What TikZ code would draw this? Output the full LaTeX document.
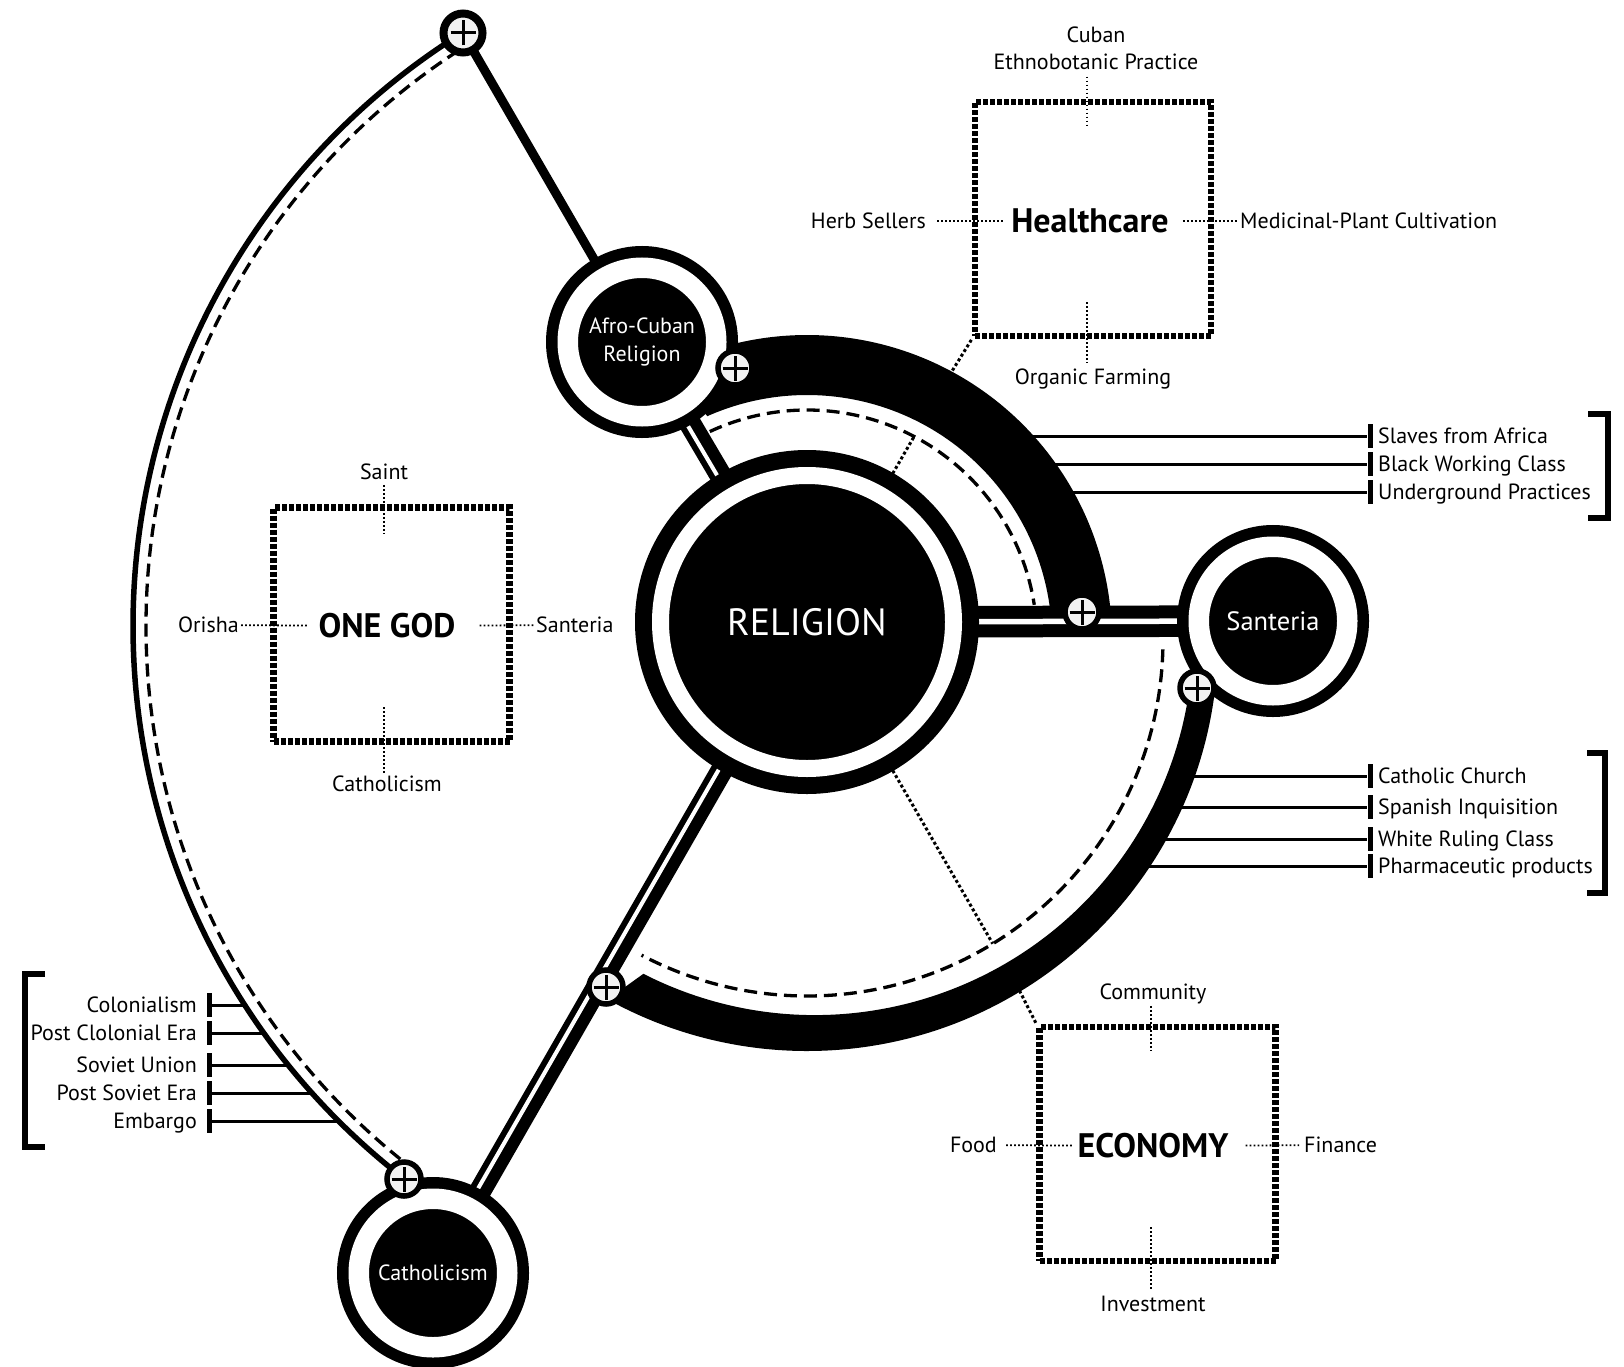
\documentclass[tikz,border=0pt]{standalone}
\usepackage{fontspec}
\setmainfont{PT Sans}
\usetikzlibrary{calc,backgrounds}

\begin{document}
\begin{tikzpicture}[x=1pt,y=-1pt,
        ring/.style={circle, draw=black, fill=black, double=white, inner sep=0pt, text=white, align=center},
        bigring/.style={ring, line width=17pt, double distance=17pt, minimum size=293pt},
        smallring/.style={ring, line width=11.5pt, double distance=20.5pt, minimum size=148.5pt},
        plusnode/.style={circle, draw=black, fill=black!5, line width=5.5pt, minimum size=34pt, inner sep=0pt,
            path picture={\draw[line width=3pt]
                ([xshift=-12.5pt]path picture bounding box.center) -- ([xshift=12.5pt]path picture bounding box.center)
                ([yshift=-12.5pt]path picture bounding box.center) -- ([yshift=12.5pt]path picture bounding box.center);}},
        topplus/.style={plusnode, line width=8pt, minimum size=39pt},
        framebox/.style={draw, line width=6.5pt, dash pattern=on 5pt off 2pt, minimum width=236pt, minimum height=234pt, inner sep=0pt},
        boxtitle/.style={font=\fontsize{34}{40}\selectfont\bfseries, inner sep=2pt, text height=23.5pt, text depth=0pt},
        lbl/.style={font=\fontsize{22}{28}\selectfont, inner sep=2pt, text height=15.5pt, text depth=0pt},
        thindot/.style={line width=1.8pt, dash pattern=on 1.8pt off 2.2pt},
        raydot/.style={line width=3pt, dash pattern=on 3pt off 2.5pt},
        arcdash/.style={line width=3.3pt, dash pattern=on 13pt off 7pt},
        tickline/.style={line width=3pt},
        tickbar/.style={fill=black, minimum width=5pt, minimum height=24pt, inner sep=0pt},
        bracket/.style={line width=5.5pt}]
        \useasboundingbox (0,0) rectangle (1624,1367);

        % circles
        \node[bigring, font=\fontsize{38}{40}\selectfont] (rel) at (807,622) {RELIGION};
        \node[smallring, font=\fontsize{22}{28}\selectfont] (afro) at (642,342) {Afro-Cuban\\Religion};
        \node[smallring, font=\fontsize{26.5}{30}\selectfont] (sant) at (1273,621) {Santeria};
        \node[smallring, font=\fontsize{22}{28}\selectfont] (cath) at (433,1273) {Catholicism};

        \node[topplus] (p1) at (463,33) {};
        \node[plusnode] (p2) at (735,368) {};
        \node[plusnode] (p3) at (1082,612) {};
        \node[plusnode] (p4) at (1197,688) {};
        \node[plusnode] (p5) at (606,987) {};
        \node[plusnode] (p6) at (404,1179) {};

        \coordinate (lc) at (832,626);
        \coordinate (bc) at (807,640);
        \coordinate (ic) at (815,637);

        % healthcare
        \node[framebox] (hbox) at (1093,219) {};
        \node[boxtitle] (health) at (1090,221) {Healthcare};
        \node[font=\fontsize{22}{27}\selectfont, align=center, inner sep=2pt] (ethno) at (1096,48) {Cuban\\Ethnobotanic Practice};
        \node[lbl, anchor=east] (herb) at (928,221) {Herb Sellers};
        \node[lbl, anchor=west] (medic) at (1238,221) {Medicinal-Plant Cultivation};
        \node[lbl] (organic) at (1093,377) {Organic Farming};
        \coordinate (ht) at (1087,128);
        \coordinate (hb) at (1087,302);
        \draw[thindot, shorten <=9pt, shorten >=6pt] (herb) -- (health);
        \draw[thindot, shorten <=12pt] (health) -- (medic);
        \draw[thindot, shorten <=5pt] (ht |- ethno.south) -- (ht);
        \draw[thindot, shorten >=4pt] (hb) -- (hb |- organic.north);

        % one god
        \node[framebox] (gbox) at (391.5,624.5) {};
        \node[boxtitle] (god) at (387,626) {ONE GOD};
        \node[lbl] (saint) at (384,472) {Saint};
        \node[lbl, anchor=east] (orisha) at (241,625) {Orisha};
        \node[lbl, anchor=west] (santl) at (534,625) {Santeria};
        \node[lbl] (cathl) at (387,784) {Catholicism};
        \coordinate (gt) at (384,533);
        \coordinate (gb) at (384,707);
        \draw[thindot, shorten >=9pt] (orisha) -- (god);
        \draw[thindot, shorten <=22pt] (god) -- (santl);
        \draw[thindot, shorten <=3pt] (gt |- saint.south) -- (gt);
        \draw[thindot] (gb) -- (gb |- cathl.north);

        % economy
        \node[framebox] (ebox) at (1157.5,1144) {};
        \node[boxtitle] (econ) at (1153,1146) {ECONOMY};
        \node[lbl] (comm) at (1153,992) {Community};
        \node[lbl, anchor=east] (food) at (999,1145) {Food};
        \node[lbl, anchor=west] (fin) at (1302,1145) {Finance};
        \node[lbl] (invest) at (1153,1304) {Investment};
        \coordinate (et) at (1151,1051);
        \coordinate (eb) at (1151,1227);
        \draw[thindot, shorten <=7pt, shorten >=3pt] (food) -- (econ);
        \draw[thindot, shorten <=15pt, shorten >=3pt] (econ) -- (fin);
        \draw[thindot, shorten <=4pt] (et |- comm.south) -- (et);
        \draw[thindot, shorten >=4pt] (eb) -- (eb |- invest.north);

        % right ticks
        \node[tickbar] (bsla) at (1370,436) {};
        \node[tickbar] (bbwc) at (1370,464) {};
        \node[tickbar] (bup) at (1370,492) {};
        \node[lbl, anchor=west] (slaves) at (1376,436) {Slaves from Africa};
        \node[lbl, anchor=west] (bwc) at (1376,464) {Black Working Class};
        \node[lbl, anchor=west] (underg) at (1376,492) {Underground Practices};
        \node[tickbar] (bcc) at (1370,776) {};
        \node[tickbar] (bsi) at (1370,807) {};
        \node[tickbar] (bwrc) at (1370,839) {};
        \node[tickbar] (bpp) at (1370,866) {};
        \node[lbl, anchor=west] (cathch) at (1376,776) {Catholic Church};
        \node[lbl, anchor=west] (spain) at (1376,807) {Spanish Inquisition};
        \node[lbl, anchor=west] (white) at (1376,839) {White Ruling Class};
        \node[lbl, anchor=west] (pharma) at (1376,866) {Pharmaceutic products};
        \draw[bracket] (1588,414) -- (1608,414) -- (1608,518) -- (1588,518);
        \draw[bracket] (1587,753) -- (1605,753) -- (1605,893) -- (1587,893);

        % left ticks
        \node[tickbar] (bcol) at (209,1005) {};
        \node[tickbar] (bpce) at (209,1033) {};
        \node[tickbar] (bsu) at (209,1065) {};
        \node[tickbar] (bpse) at (209,1093) {};
        \node[tickbar] (bemb) at (209,1121) {};
        \node[lbl, anchor=east] (colon) at (199,1005) {Colonialism};
        \node[lbl, anchor=east] (postcol) at (199,1033) {Post Clolonial Era};
        \node[lbl, anchor=east] (soviet) at (199,1065) {Soviet Union};
        \node[lbl, anchor=east] (postsov) at (199,1093) {Post Soviet Era};
        \node[lbl, anchor=east] (embargo) at (199,1121) {Embargo};
        \draw[bracket] (45,974) -- (25,974) -- (25,1147) -- (45,1147);

        \coordinate (e1) at (1015,436);
        \coordinate (e2) at (1040,464);
        \coordinate (e3) at (1060,492);
        \coordinate (e4) at (1180,776);
        \coordinate (e5) at (1168,807);
        \coordinate (e6) at (1151,839);
        \coordinate (e7) at (1133,866);
        \coordinate (e8) at (243.5,1005);
        \coordinate (e9) at (262.5,1033);
        \coordinate (e10) at (286.8,1065);
        \coordinate (e11) at (310.5,1093);
        \coordinate (e12) at (337.1,1121);
        \coordinate (r1) at ($(rel)+(-60:214)$);
        \coordinate (r2) at ($(rel)+(-60:285)$);
        \coordinate (r3) at ($(rel)+(60:371.5)$);
        \coordinate (r4) at ($(rel)+(60:420)$);

        \begin{pgfonlayer}{background}
        \draw[tickline] (e1) -- (bsla);
        \draw[tickline] (e2) -- (bbwc);
        \draw[tickline] (e3) -- (bup);
        \draw[tickline] (e4) -- (bcc);
        \draw[tickline] (e5) -- (bsi);
        \draw[tickline] (e6) -- (bwrc);
        \draw[tickline] (e7) -- (bpp);
        \draw[tickline] (bcol) -- (e8);
        \draw[tickline] (bpce) -- (e9);
        \draw[tickline] (bsu) -- (e10);
        \draw[tickline] (bpse) -- (e11);
        \draw[tickline] (bemb) -- (e12);

        \draw[raydot] (rel) -- (r1);
        \draw[raydot] (r2) -- (hbox.south west);
        \draw[raydot] (rel) -- (r3);
        \draw[raydot] (r4) -- (ebox.north west);

        % outer arc
        \draw[line width=5.5pt] (lc) ++(238.1:699) arc[start angle=238.1, end angle=127.7, radius=699];
        \draw[arcdash] (lc) ++(237:686) arc[start angle=237, end angle=128.5, radius=686];

        % bands
        \fill (bc) ++(-120:305) arc[start angle=-120, end angle=-5.3, radius=305]
            -- ($(bc)+(-6.6:245)$) arc[start angle=-6.6, end angle=-114, radius=245] -- (afro.center) -- cycle;
        \fill (bc) ++(0:411) arc[start angle=0, end angle=119, radius=411]
            -- ($(ic)+(117:378)$) arc[start angle=117, end angle=-2, radius=378] -- cycle;
        \draw[arcdash] (bc) ++(-115:230) arc[start angle=-115, end angle=-8.8, radius=230];
        \draw[arcdash] (bc) ++(1.5:356) arc[start angle=1.5, end angle=117.7, radius=356];

        % connectors
        \draw[line width=9pt] (p1.center) -- (afro.center);
        \draw[line width=22pt] (rel.center) -- (afro.center);
        \draw[white, line width=4pt] ($(rel)!3pt!90:(afro)$) -- ($(afro)!3pt!-90:(rel)$);
        \draw[line width=22pt] (rel.center) -- (cath.center);
        \draw[white, line width=4pt] ($(rel)!3pt!-90:(cath)$) -- ($(cath)!3pt!90:(rel)$);
        \draw[line width=13pt, double=white, double distance=5.5pt] (rel.center) -- (sant.center);
        \end{pgfonlayer}
\end{tikzpicture}
\end{document}
